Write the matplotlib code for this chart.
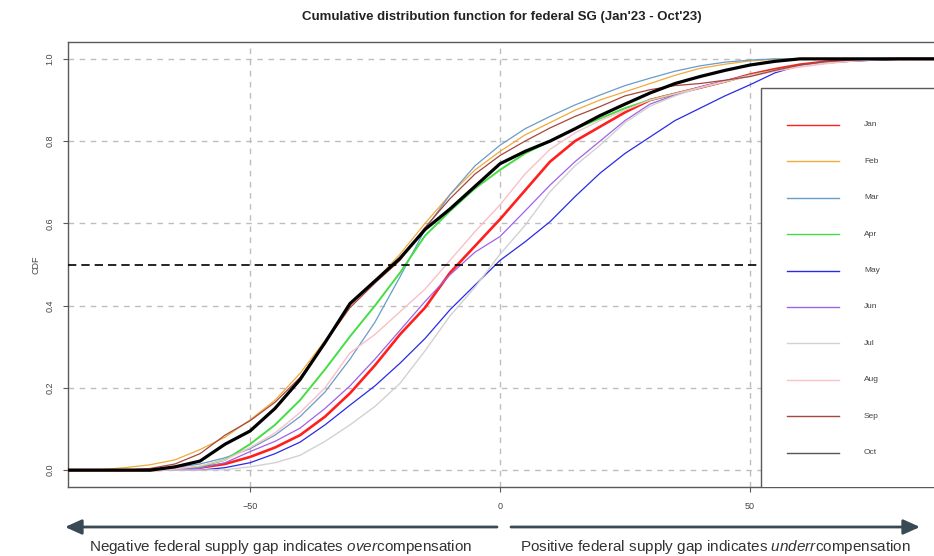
import matplotlib
matplotlib.use("Agg")
import matplotlib.pyplot as plt
from matplotlib import font_manager
from matplotlib.patches import Rectangle
from matplotlib.lines import Line2D

# federal supply gap grid (units on x axis)
gap = [-90, -85, -80, -75, -70, -65, -60, -55, -50, -45, -40, -35, -30, -25, -20, -15, -10, -5,
       0, 5, 10, 15, 20, 25, 30, 35, 40, 45, 50, 55, 60, 65, 70, 75, 80, 85, 90]

# CDF values, one list per month
jan = [0, 0, 0, 0, 0, 0.002, 0.006, 0.015, 0.032, 0.055, 0.085, 0.13, 0.187, 0.255, 0.33, 0.395, 0.48, 0.545,
       0.61, 0.68, 0.75, 0.8, 0.835, 0.87, 0.9, 0.915, 0.93, 0.945, 0.962, 0.975, 0.986, 0.993, 0.997, 0.999, 1.0, 1.0, 1.0]
feb = [0, 0, 0.001, 0.006, 0.013, 0.025, 0.05, 0.08, 0.122, 0.17, 0.235, 0.315, 0.40, 0.46, 0.525, 0.6, 0.67, 0.73,
       0.775, 0.815, 0.845, 0.875, 0.9, 0.92, 0.94, 0.96, 0.977, 0.987, 0.995, 0.999, 1.0, 1.0, 1.0, 1.0, 1.0, 1.0, 1.0]
mar = [0, 0, 0, 0, 0.002, 0.006, 0.015, 0.03, 0.052, 0.085, 0.13, 0.19, 0.27, 0.36, 0.47, 0.585, 0.67, 0.74,
       0.79, 0.83, 0.86, 0.888, 0.912, 0.935, 0.953, 0.97, 0.983, 0.992, 0.997, 1.0, 1.0, 1.0, 1.0, 1.0, 1.0, 1.0, 1.0]
apr = [0, 0, 0, 0, 0, 0.001, 0.008, 0.025, 0.063, 0.11, 0.17, 0.245, 0.325, 0.4, 0.48, 0.57, 0.63, 0.685,
       0.73, 0.77, 0.8, 0.83, 0.855, 0.88, 0.9, 0.915, 0.93, 0.945, 0.96, 0.972, 0.983, 0.99, 0.995, 0.998, 1.0, 1.0, 1.0]
may = [0, 0, 0, 0, 0, 0, 0, 0.006, 0.018, 0.04, 0.068, 0.11, 0.158, 0.205, 0.26, 0.32, 0.39, 0.45,
       0.51, 0.555, 0.604, 0.665, 0.722, 0.77, 0.81, 0.85, 0.88, 0.91, 0.937, 0.966, 0.984, 0.99, 0.994, 0.997, 0.999, 1.0, 1.0]
jun = [0, 0, 0, 0, 0, 0.001, 0.005, 0.018, 0.045, 0.07, 0.102, 0.15, 0.205, 0.27, 0.34, 0.41, 0.475, 0.53,
       0.568, 0.63, 0.693, 0.75, 0.8, 0.85, 0.89, 0.912, 0.932, 0.947, 0.96, 0.972, 0.982, 0.99, 0.995, 0.998, 1.0, 1.0, 1.0]
jul = [0, 0, 0, 0, 0, 0, 0, 0.001, 0.008, 0.018, 0.036, 0.07, 0.11, 0.155, 0.211, 0.29, 0.375, 0.445,
       0.525, 0.595, 0.677, 0.74, 0.79, 0.845, 0.885, 0.91, 0.93, 0.945, 0.96, 0.972, 0.982, 0.99, 0.995, 0.998, 1.0, 1.0, 1.0]
aug = [0, 0, 0, 0, 0, 0.003, 0.01, 0.025, 0.055, 0.09, 0.14, 0.2, 0.285, 0.33, 0.385, 0.44, 0.51, 0.58,
       0.645, 0.72, 0.78, 0.82, 0.85, 0.875, 0.9, 0.915, 0.93, 0.945, 0.958, 0.97, 0.98, 0.988, 0.994, 0.998, 1.0, 1.0, 1.0]
sep = [0, 0, 0, 0, 0.004, 0.015, 0.04, 0.085, 0.12, 0.165, 0.225, 0.31, 0.395, 0.455, 0.51, 0.59, 0.66, 0.72,
       0.765, 0.8, 0.832, 0.86, 0.884, 0.91, 0.925, 0.935, 0.94, 0.948, 0.957, 0.972, 0.985, 0.993, 0.997, 1.0, 1.0, 1.0, 1.0]
oct_ = [0, 0, 0, 0, 0, 0.008, 0.022, 0.063, 0.095, 0.15, 0.22, 0.31, 0.405, 0.46, 0.515, 0.585, 0.635, 0.69,
        0.745, 0.775, 0.8, 0.83, 0.862, 0.89, 0.917, 0.94, 0.957, 0.972, 0.985, 0.994, 1.0, 1.0, 1.0, 1.0, 1.0, 1.0, 1.0]

months = ["Jan", "Feb", "Mar", "Apr", "May", "Jun", "Jul", "Aug", "Sep", "Oct"]
series = [jan, feb, mar, apr, may, jun, jul, aug, sep, oct_]
colors = ["#ff1f1f", "#f2aa3a", "#6a9bc9", "#44dd44", "#2a2ae6",
          "#a062e6", "#d2d2d2", "#f9c0c8", "#a5473d", "#000000"]
widths = [1.9, 0.9, 0.9, 1.4, 0.9, 0.9, 1.0, 1.0, 0.9, 2.3]

names = {f.name for f in font_manager.fontManager.ttflist}
print(sorted(n for n in names if "Narrow" in n or "Condensed" in n or "Liberation" in n))
narrow = "Liberation Sans Narrow" if "Liberation Sans Narrow" in names else "Liberation Sans"
plt.rcParams["font.family"] = ["Liberation Sans", "DejaVu Sans"]
plt.rcParams["mathtext.fontset"] = "custom"
plt.rcParams["mathtext.rm"] = narrow
plt.rcParams["mathtext.it"] = narrow + ":italic"

W, H = 934, 556
fig = plt.figure(figsize=(W / 100, H / 100), dpi=100)
fig.patch.set_facecolor("white")
L, R, T, B = 68, 936, 42, 487
ax = fig.add_axes([L / W, (H - B) / H, (R - L) / W, (B - T) / H])
ax.set_xlim(-86.4, 87.2)
ax.set_ylim(-0.041, 1.041)

for vals, c, lw in zip(series, colors, widths):
    ax.plot(gap, vals, color=c, lw=lw, zorder=3)

ax.axhline(0.5, color="black", lw=1.2, dashes=(5, 3), zorder=4)

ax.set_xticks([-50, 0, 50])
ax.set_yticks([0, 0.2, 0.4, 0.6, 0.8, 1.0])
ax.set_yticklabels(["0.0", "0.2", "0.4", "0.6", "0.8", "1.0"], rotation=90, va="center")
ax.grid(True, color="#bdbdbd", lw=1, dashes=(4, 4), zorder=1)
ax.set_axisbelow(True)
for s in ["left", "bottom", "top"]:
    ax.spines[s].set_color("#5a5a5a")
    ax.spines[s].set_linewidth(1)
ax.spines["right"].set_visible(False)
ax.tick_params(axis="both", length=3.5, color="#5a5a5a", labelsize=6.5, labelcolor="#444444")
ax.tick_params(axis="x", pad=7)
ax.tick_params(axis="y", pad=6)

# legend box drawn by hand, R style
lx0 = (761 - L) / (R - L)
ly1 = (B - 88) / (B - T)
ax.add_patch(Rectangle((lx0, -0.01), 0.3, ly1 + 0.01, transform=ax.transAxes,
                       facecolor="white", edgecolor="#5a5a5a", lw=1, zorder=6, clip_on=True))
for i, (m, c) in enumerate(zip(months, colors)):
    yy = (B - (125 + i * 36.4)) / (B - T)
    ax.add_line(Line2D([(787 - L) / (R - L), (839 - L) / (R - L)], [yy, yy], transform=ax.transAxes,
                       color=c if c != "#000000" else "#555555", lw=1.0, zorder=7))
    ax.text((864 - L) / (R - L), yy, m, transform=ax.transAxes, fontsize=6,
            color="#444444", va="center", ha="left", zorder=7)

fig.text(502 / W, (H - 17) / H, "Cumulative distribution function for federal SG (Jan'23 - Oct'23)",
         ha="center", va="center", fontsize=9.5, fontweight="bold", family=narrow, color="#222222")
fig.text(36 / W, (H - 265) / H, "CDF", rotation=90, ha="center", va="center", fontsize=6.5, color="#444444")

# direction arrows under the axis
arrow_col = "#3a4a55"
ap = dict(arrowstyle="-|>,head_length=1.0,head_width=0.45", mutation_scale=10,
          lw=2, color=arrow_col, shrinkA=0, shrinkB=0)
ax.annotate("", xy=(65, H - 527), xytext=(497, H - 527), xycoords="figure pixels",
            textcoords="figure pixels", arrowprops=ap, annotation_clip=False)
ax.annotate("", xy=(920, H - 527), xytext=(511, H - 527), xycoords="figure pixels",
            textcoords="figure pixels", arrowprops=ap, annotation_clip=False)
fig.text(281 / W, (H - 547) / H, r"Negative federal supply gap indicates $\mathit{over}$compensation",
         ha="center", va="center", fontsize=11, family=narrow, color="#333333")
fig.text(716 / W, (H - 547) / H, r"Positive federal supply gap indicates $\mathit{underr}$compensation",
         ha="center", va="center", fontsize=11, family=narrow, color="#333333")

fig.savefig("out.png", dpi=100, facecolor="white")
